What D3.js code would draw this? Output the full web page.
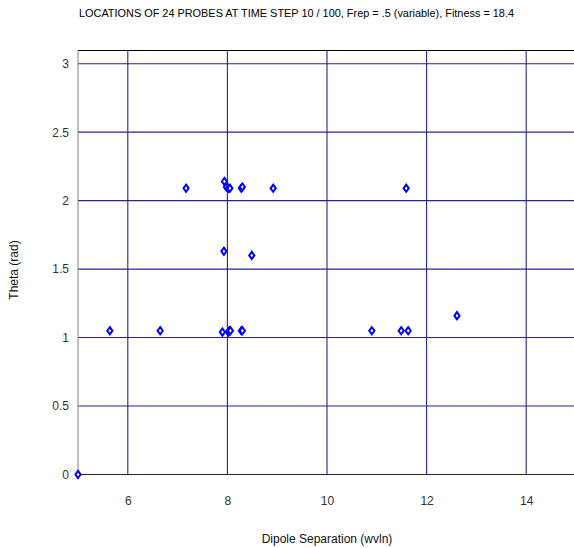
<!DOCTYPE html>
<html>
<head>
<meta charset="utf-8">
<script src="https://cdn.jsdelivr.net/npm/d3@7/dist/d3.min.js"></script>
<style>
  html, body { margin: 0; padding: 0; background: #fff; }
  svg { display: block; }
  text { font-family: "Liberation Sans", Arial, sans-serif; }
</style>
</head>
<body>
<svg id="chart" width="574" height="548"></svg>
<script>
// ---- data ----
const title = "LOCATIONS OF 24 PROBES AT TIME STEP 10 / 100, Frep = .5 (variable), Fitness = 18.4";
const xLabel = "Dipole Separation (wvln)";
const yLabel = "Theta (rad)";
const xTicks = [6, 8, 10, 12, 14];
const yTicks = [0, 0.5, 1, 1.5, 2, 2.5, 3];
const yTickLabels = ["0", "0.5", "1", "1.5", "2", "2.5", "3"];
const xDomain = [5, 15];
const yDomain = [0, 3.1];
const probeX = [5.00, 5.64, 6.65, 7.17, 7.94, 7.98, 8.02, 8.05, 8.28, 8.30, 8.92,
                7.93, 8.49, 7.90, 8.02, 8.04, 8.06, 8.28, 8.30, 10.90, 11.49, 11.63,
                11.59, 12.61];
const probeY = [0.00, 1.05, 1.05, 2.09, 2.14, 2.10, 2.09, 2.09, 2.09, 2.10, 2.09,
                1.63, 1.60, 1.04, 1.04, 1.05, 1.05, 1.05, 1.05, 1.05, 1.05, 1.05,
                2.09, 1.16];

// ---- layout ----
const svg = d3.select("#chart");
const mLeft = 78, mTop = 50, mRight = 576, mBottom = 474.5;

const x = d3.scaleLinear().domain(xDomain).range([mLeft, mRight]);
const y = d3.scaleLinear().domain(yDomain).range([mBottom, mTop]);

// title
svg.append("text")
  .attr("x", 296.5).attr("y", 17)
  .attr("text-anchor", "middle")
  .attr("font-size", 11)
  .attr("textLength", 435)
  .attr("lengthAdjust", "spacingAndGlyphs")
  .attr("fill", "#000")
  .text(title);

// grid lines
const grid = svg.append("g");
grid.selectAll("line.gx").data(xTicks).join("line")
  .attr("class", "gx")
  .attr("x1", d => x(d)).attr("x2", d => x(d))
  .attr("y1", mTop).attr("y2", mBottom)
  .attr("stroke", "#26268e").attr("stroke-width", 1.1);
grid.selectAll("line.gy").data(yTicks.filter(d => d > 0)).join("line")
  .attr("class", "gy")
  .attr("x1", mLeft).attr("x2", mRight)
  .attr("y1", d => y(d)).attr("y2", d => y(d))
  .attr("stroke", "#26268e").attr("stroke-width", 1.1);

// top border
svg.append("line")
  .attr("x1", mLeft).attr("x2", mRight)
  .attr("y1", mTop + 0.5).attr("y2", mTop + 0.5)
  .attr("stroke", "#000").attr("stroke-width", 1);

// axes using d3 axis generators
const xAxis = d3.axisBottom(x).tickValues(xTicks).tickSize(0).tickPadding(22)
  .tickFormat(d3.format("d"));
const gx = svg.append("g").attr("transform", `translate(0,${mBottom})`).call(xAxis);
gx.select(".domain").attr("stroke", "#222").attr("d", `M${mLeft},0H${mRight}`);
gx.selectAll("text").attr("font-size", 12).attr("fill", "#333")
  .attr("font-family", "Liberation Sans, Arial, sans-serif");

const yAxis = d3.axisLeft(y).tickValues(yTicks).tickSize(0).tickPadding(9)
  .tickFormat((d, i) => yTickLabels[i]);
const gy = svg.append("g").attr("transform", `translate(${mLeft},0)`).call(yAxis);
gy.select(".domain").attr("stroke", "#808080").attr("d", `M0,${mTop}V${mBottom}`);
gy.selectAll("text").attr("font-size", 12).attr("fill", "#333")
  .attr("font-family", "Liberation Sans, Arial, sans-serif");

// axis titles
svg.append("text")
  .attr("x", 327).attr("y", 543)
  .attr("text-anchor", "middle")
  .attr("font-size", 12)
  .attr("fill", "#111")
  .text(xLabel);
svg.append("text")
  .attr("transform", "translate(18,270) rotate(-90)")
  .attr("text-anchor", "middle")
  .attr("font-size", 12)
  .attr("fill", "#111")
  .text(yLabel);

// probes: hollow blue diamonds
const pts = probeX.map((v, i) => ({ x: v, y: probeY[i] }));
svg.append("g").selectAll("path").data(pts).join("path")
  .attr("transform", d => `translate(${x(d.x)},${y(d.y)})`)
  .attr("d", "M0,-3.6L2.6,0L0,3.6L-2.6,0Z")
  .attr("fill", "#fff")
  .attr("stroke", "#0000ff")
  .attr("stroke-width", 2);
</script>
</body>
</html>
